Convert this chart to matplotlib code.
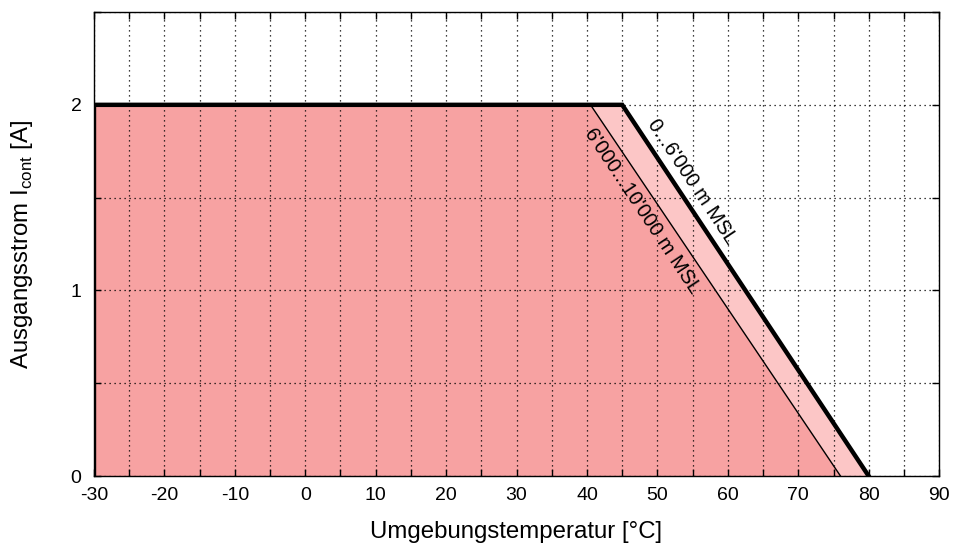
import numpy as np
import matplotlib.pyplot as plt
from matplotlib.ticker import MultipleLocator

plt.rcParams['font.family'] = ['Liberation Sans', 'DejaVu Sans']
plt.rcParams['mathtext.fontset'] = 'custom'
plt.rcParams['mathtext.rm'] = 'Liberation Sans'
plt.rcParams['axes.unicode_minus'] = False

# derating curves: 0...6'000 m and 6'000...10'000 m altitude
temp_low = [-30, 45, 80]
current_low = [2, 2, 0]
temp_high = [-30, 40.5, 76]
current_high = [2, 2, 0]

label_low = "0...6'000 m MSL"
label_high = "6'000...10'000 m MSL"

fig = plt.figure(figsize=(9.55, 5.46), dpi=100)
ax = fig.add_axes([0.0984, 0.128, 0.885, 0.85])

ax.fill_between(temp_low, current_low, 0, color='#fcc6c6', lw=0, zorder=1)
ax.fill_between(temp_high, current_high, 0, color='#f7a2a2', lw=0, zorder=1.5)

ax.plot(temp_high[1:], current_high[1:], color='black', lw=1.0, zorder=4)
ax.plot([temp_low[0]] + temp_low, [0] + current_low, color='black', lw=3.2,
        solid_joinstyle='miter', zorder=5)

ax.set_xlim(-30, 90)
ax.set_ylim(0, 2.5)
ax.xaxis.set_major_locator(MultipleLocator(10))
ax.xaxis.set_minor_locator(MultipleLocator(5))
ax.yaxis.set_major_locator(MultipleLocator(1))
ax.yaxis.set_minor_locator(MultipleLocator(0.5))
ax.set_yticks([0, 1, 2])
ax.set_yticklabels(['0', '1', '2'])

ax.set_axisbelow(False)
ax.grid(True, which='both', color='black', ls=(0, (1, 3)), lw=0.9, zorder=3)
ax.tick_params(which='both', direction='in', top=True, right=True,
               length=5, width=1, labelsize=14, color='black')
ax.tick_params(axis='x', pad=8)
ax.tick_params(axis='y', pad=9)
for s in ax.spines.values():
    s.set_linewidth(1)
    s.set_zorder(6)

ax.set_xlabel('Umgebungstemperatur [°C]', fontsize=17.3)
ax.set_ylabel(r'Ausgangsstrom I$_\mathrm{cont}$ [A]', fontsize=17.3)
ax.xaxis.set_label_coords(0.5, -0.097)
ax.yaxis.set_label_coords(-0.070, 0.5)

# slope of the lines in screen space
fig.canvas.draw()
p0 = ax.transData.transform((45, 2))
p1 = ax.transData.transform((80, 0))
ang = np.degrees(np.arctan2(p1[1] - p0[1], p1[0] - p0[0]))

ax.text(54.9, 1.584, label_low, rotation=ang, rotation_mode='anchor',
        ha='center', va='center', fontsize=14.5, zorder=7)
ax.text(47.8, 1.428, label_high, rotation=ang, rotation_mode='anchor',
        ha='center', va='center', fontsize=14.5, zorder=7)

fig.savefig('out.png', dpi=100)
